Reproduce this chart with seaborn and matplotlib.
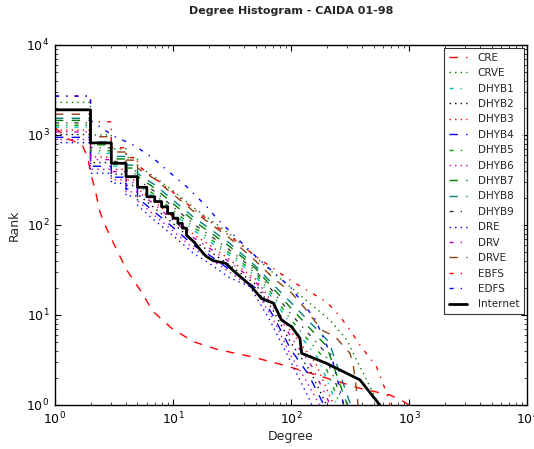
import numpy as np
import matplotlib
matplotlib.use("Agg")
import matplotlib.pyplot as plt
import seaborn as sns

# ========================
# Data (degree vs rank)
# ========================
cre_deg = [1, 1.3, 1.7, 1.9, 2.0, 2.2, 2.4, 2.7, 3.33, 4.05, 5.25, 6.8, 9.75, 14.9, 23.5, 46, 86, 165, 385, 690, 850, 1000]
cre_rank = [1200, 900, 780, 550, 380, 240, 140, 95, 53, 31.6, 19, 10.9, 7.1, 5.05, 4.16, 3.44, 2.78, 2.15, 1.53, 1.29, 1.14, 1.0]

crve_deg = [1, 2, 3, 4, 5, 7, 10, 15, 20, 30, 45, 66, 98, 144, 213, 297, 359, 438, 530, 545]
crve_rank = [2300, 1000, 700, 560, 460, 340, 240, 155, 118, 80, 50, 31.6, 20.6, 13.5, 8.8, 5.3, 3.16, 1.9, 1.13, 1.0]

grid = [1, 2, 3, 4, 5, 7, 10, 15, 20, 30, 50, 70, 100]

dhyb1_deg = grid + [170, 245]
dhyb1_rank = [1220, 625, 450, 347, 279, 201, 136, 87, 67, 46, 27, 15.3, 7.8, 3.3, 1.0]

dhyb2_deg = grid + [145, 200]
dhyb2_rank = [1010, 493, 367, 275, 220, 154, 104, 66, 52, 36, 22, 11.4, 4.9, 2.4, 1.0]

dhyb3_deg = grid + [160, 230]
dhyb3_rank = [1130, 568, 415, 316, 254, 181, 122, 78, 61, 41.5, 25, 13.6, 6.5, 3.0, 1.0]

dhyb4_deg = grid + [140, 190]
dhyb4_rank = [940, 449, 339, 251, 200, 139, 94, 59, 47, 32, 20, 10, 4.1, 2.2, 1.0]

dhyb5_deg = grid + [180, 260]
dhyb5_rank = [1280, 667, 475, 370, 298, 216, 146, 94, 72, 49, 29, 16.7, 8.8, 3.6, 1.0]

dhyb6_deg = grid + [130, 175]
dhyb6_rank = [890, 415, 318, 233, 186, 127, 86, 54, 43, 30, 18.8, 9.2, 3.5, 2.0, 1.0]

dhyb7_deg = grid + [200, 300]
dhyb7_rank = [1450, 776, 541, 429, 347, 256, 173, 111, 85, 58, 33, 20, 11.9, 4.5, 1.0]

dhyb8_deg = grid + [210, 320]
dhyb8_rank = [1530, 837, 577, 461, 374, 279, 189, 121, 93, 63, 35, 22, 13.7, 5.0, 1.0]

dhyb9_deg = grid + [190, 280]
dhyb9_rank = [1360, 719, 507, 398, 321, 235, 159, 102, 78.5, 53, 31, 18.4, 10.2, 4.0, 1.0]

dre_deg = [1, 2, 3, 4, 5, 7, 10, 15, 20, 30, 45, 66, 86, 104, 144, 150]
dre_rank = [820, 375, 290, 210, 165, 112, 76, 48, 38, 26, 20.6, 8.8, 4.4, 2.7, 1.14, 1.0]

drv_deg = grid + [150, 215]
drv_rank = [1080, 532, 392, 296, 238, 168, 113, 72, 56, 39, 23.5, 12.5, 5.7, 2.7, 1.0]

drve_deg = grid + [131, 182, 236, 316, 338, 359, 370]
drve_rank = [1700, 955, 646, 525, 427, 324, 219, 141, 107, 72, 40, 26, 17.8, 11.9, 6.8, 5.75, 3.75, 2.67, 1.47, 1.0]

ebfs_deg = [1, 2, 3, 4, 5, 7, 10, 15, 20, 30, 50, 100, 200, 260, 316, 385, 530, 640, 690]
ebfs_rank = [2700, 1400, 720, 560, 460, 330, 230, 150, 112, 76, 45, 24, 14, 9.6, 6.8, 4.6, 2.66, 1.4, 1.0]

edfs_deg = [1, 2, 3.12, 4.61, 6.81, 9.44, 13.1, 19.3, 23.5, 28.5, 50, 100, 160, 220, 280]
edfs_rank = [2700, 1450, 975, 775, 550, 380, 265, 160, 118, 92, 45, 20, 9, 3.5, 1.0]

internet_deg = [1, 2, 3, 4, 5, 6, 7, 8, 9, 10, 11, 12, 13, 15, 17, 19, 22, 28, 32, 45, 56, 71, 83, 101, 119, 123, 200, 384, 565]
internet_rank = [1900, 815, 484, 344, 262, 206, 182, 159, 134, 119, 104, 92, 77, 65, 53, 45, 40, 37.5, 31.6, 21.5, 15.3, 13.5, 8.8, 7.4, 5.5, 3.75, 2.9, 1.9, 1.0]

names = ["CRE", "CRVE", "DHYB1", "DHYB2", "DHYB3", "DHYB4", "DHYB5", "DHYB6",
         "DHYB7", "DHYB8", "DHYB9", "DRE", "DRV", "DRVE", "EBFS", "EDFS", "Internet"]
degs = [cre_deg, crve_deg, dhyb1_deg, dhyb2_deg, dhyb3_deg, dhyb4_deg, dhyb5_deg, dhyb6_deg,
        dhyb7_deg, dhyb8_deg, dhyb9_deg, dre_deg, drv_deg, drve_deg, ebfs_deg, edfs_deg, internet_deg]
ranks = [cre_rank, crve_rank, dhyb1_rank, dhyb2_rank, dhyb3_rank, dhyb4_rank, dhyb5_rank, dhyb6_rank,
         dhyb7_rank, dhyb8_rank, dhyb9_rank, dre_rank, drv_rank, drve_rank, ebfs_rank, edfs_rank, internet_rank]

colors = ["red", "green", "#00bfbf", "black", "red", "blue", "#00a000", "#bf00bf",
          "green", "teal", "#404040", "blue", "#bf00bf", "#8b4513", "red", "blue", "black"]
styles = ["--", ":", "-.", ":", ":", "--", "-.", ":", "--", "--", "-.", ":", "-.", "--", "-.", "-.", "-"]
step_until = [0, 5, 5, 5, 5, 5, 5, 5, 5, 5, 5, 5, 5, 5, 5, 5, 22]


def stairs(deg, rank, limit):
    # degree histograms are stepwise at small integer degrees
    xs, ys = [deg[0]], [rank[0]]
    for i in range(1, len(deg)):
        if deg[i] <= limit and deg[i] - deg[i - 1] == 1:
            xs.append(deg[i])
            ys.append(rank[i - 1])
        xs.append(deg[i])
        ys.append(rank[i])
    return xs, ys


# ========================
# Plot
# ========================
sns.set_style("ticks")
plt.rcParams["font.family"] = ["DejaVu Sans"]
plt.rcParams["xtick.direction"] = "in"
plt.rcParams["ytick.direction"] = "in"
plt.rcParams["xtick.top"] = True
plt.rcParams["ytick.right"] = True
# old-style dash patterns
plt.rcParams["lines.scale_dashes"] = False
plt.rcParams["lines.dashed_pattern"] = [6, 6]
plt.rcParams["lines.dashdot_pattern"] = [3, 5, 1, 5]
plt.rcParams["lines.dotted_pattern"] = [1, 3]

fig = plt.figure(figsize=(5.34, 4.49), dpi=100)
ax = fig.add_axes([0.103, 0.098, 0.884, 0.802])

for name, d, r, c, ls, lim in zip(names, degs, ranks, colors, styles, step_until):
    xs, ys = stairs(d, r, lim)
    lw = 2 if name == "Internet" else 1
    sns.lineplot(x=xs, y=ys, ax=ax, color=c, linestyle=ls, linewidth=lw,
                 label=name, sort=False, estimator=None)

ax.set_xscale("log")
ax.set_yscale("log")
ax.set_xlim(1, 1e4)
ax.set_ylim(1, 1e4)
ax.set_title("Degree Histogram - CAIDA 01-98", fontsize=8, fontweight="bold", pad=22)
ax.set_xlabel("Degree", fontsize=9, labelpad=2)
ax.set_ylabel("Rank", fontsize=9)
ax.tick_params(which="major", length=4, width=0.8, labelsize=9, colors="black", pad=4)
ax.tick_params(which="minor", length=2, width=0.6)
for s in ax.spines.values():
    s.set_color("black")
    s.set_linewidth(1)

leg = ax.legend(loc="upper right", fontsize=7.5, frameon=True, fancybox=False,
                handlelength=1.75, handletextpad=1.0, labelspacing=0.52,
                borderaxespad=0.3, borderpad=0.45)
leg.get_frame().set_edgecolor("black")
leg.get_frame().set_linewidth(0.8)

plt.savefig("out.png", dpi=100)
